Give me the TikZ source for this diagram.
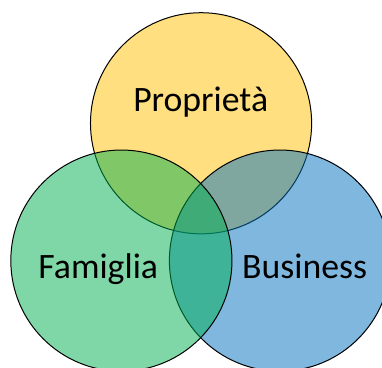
\documentclass[tikz,border=0pt]{standalone}
\usepackage{fontspec}
\setmainfont{Carlito}
\usepackage{tikz}
\definecolor{propyellow}{RGB}{255,192,0}
\definecolor{famgreen}{RGB}{0,176,80}
\definecolor{busblue}{RGB}{0,112,192}
\tikzset{
  setcircle/.style={circle, draw=black, line width=0.75pt,
    fill opacity=0.5, minimum size=5.83cm, inner sep=0pt},
  setlabel/.style={anchor=base, text=black,
    font=\fontsize{26.8}{32}\selectfont}
}

\begin{document}
\begin{tikzpicture}
  \useasboundingbox (0,0) rectangle (10.07,9.68);
  \clip (0,0) rectangle (10.07,9.68);

  % Three sets, green laid last
  \node[setcircle, fill=propyellow] (prop) at (5.30,6.43) {};
  \node[setcircle, fill=busblue] (bus) at (7.38,2.81) {};
  \node[setcircle, fill=famgreen] (fam) at (3.20,2.81) {};

  % Set names
  \node[setlabel] (proplabel) at (5.29,6.75) {Proprietà};
  \node[setlabel] (famlabel) at (2.59,2.34) {Famiglia};
  \node[setlabel] (buslabel) at (8.03,2.34) {Business};
\end{tikzpicture}
\end{document}
